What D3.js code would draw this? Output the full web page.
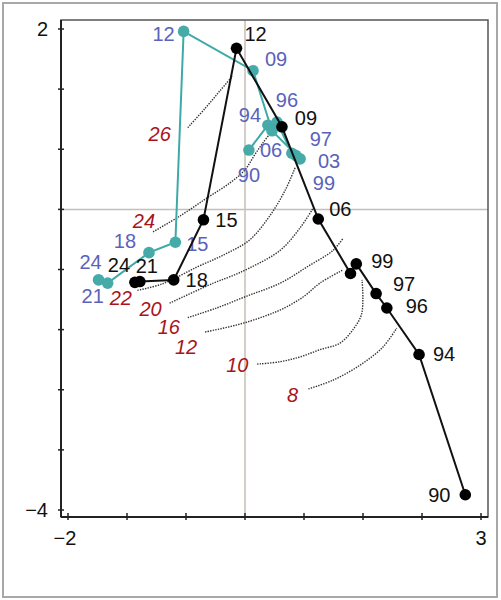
<!DOCTYPE html>
<html><head><meta charset="utf-8">
<script src="https://cdn.jsdelivr.net/npm/d3@7"></script>
<style>
html,body{margin:0;padding:0;background:#fff;}
svg{display:block;}
text{font-family:"Liberation Sans",Arial,Helvetica,sans-serif;}
</style></head>
<body>
<svg id="chart" width="501" height="600"></svg>
<script>
// ---------- data ----------
const blackLabels = ["90","94","96","97","99","","06","09","12","15","18","21","24"];
const blackX = [2.81, 2.25, 1.86, 1.73, 1.49, 1.42, 1.03, 0.59, 0.04, -0.36, -0.72, -1.13, -1.19];
const blackY = [-3.81, -2.06, -1.48, -1.30, -0.93, -1.05, -0.37, 0.78, 1.76, -0.38, -1.13, -1.15, -1.16];

const tealLabels = ["90","94","96","97","99","03","06","09","12","15","18","21","24"];
const tealX = [0.19, 0.42, 0.53, 0.71, 0.76, 0.81, 0.47, 0.24, -0.60, -0.70, -1.02, -1.52, -1.63];
const tealY = [0.49, 0.80, 0.84, 0.45, 0.42, 0.38, 0.73, 1.48, 1.97, -0.66, -0.79, -1.17, -1.13];

const contourLevels = ["26","24","22","20","16","12","10","8"];
const contourX = [
  [-0.55,-0.34,-0.16,-0.01],
  [-0.97,-0.64,-0.32,-0.04,0.14,0.26,0.36,0.45],
  [-1.16,-0.86,-0.44,-0.10,0.20,0.45,0.63,0.75],
  [-0.77,-0.24,-0.04,0.20,0.57,0.81,0.97],
  [-0.55,-0.20,0.17,0.57,0.89,1.21,1.33],
  [-0.34,0.05,0.36,0.60,0.85,1.05,1.32],
  [0.29,0.57,0.81,1.05,1.29,1.45,1.55,1.57,1.56],
  [0.91,1.21,1.54,1.81,1.98]
];
const contourY = [
  [0.77,1.01,1.23,1.41],
  [-0.53,-0.33,-0.11,0.08,0.24,0.43,0.58,0.70],
  [-1.26,-1.18,-0.97,-0.81,-0.63,-0.32,-0.01,0.27],
  [-1.42,-1.17,-1.09,-0.98,-0.76,-0.48,-0.23],
  [-1.60,-1.48,-1.33,-1.17,-0.97,-0.76,-0.61],
  [-1.78,-1.69,-1.59,-1.49,-1.34,-1.17,-1.01],
  [-2.18,-2.15,-2.09,-2.00,-1.92,-1.75,-1.57,-1.36,-1.13],
  [-2.49,-2.38,-2.19,-1.97,-1.73]
];
const contourLabelX = [-0.89,-1.08,-1.36,-1.00,-0.78,-0.57,0.05,0.72];
const contourLabelY = [0.69,-0.39,-1.36,-1.49,-1.72,-1.97,-2.19,-2.57];

const xTickLabels = ["\u22122","","","","","","","3"];
const yTickLabels = ["2","","","","","","","","\u22124"];

// ---------- layout (pixels) ----------
const blackOffsets = [[-26,0],[25,0],[30,-2],[28,-10],[26,-3],[0,0],[22,-10],[24,-9],[19,-14],[23,0],[23,0],[7,-16],[-16,-17]];
const tealOffsets = [[0,25],[-18,-10],[10,-22],[29,-14],[28,27],[29,2],[-1,19],[23,-12],[-20,3],[22,2],[-24,-12],[-15,13],[-8,-18]];

const svg = d3.select("#chart");
const x = d3.scaleLinear().domain([-2,3]).range([68,481]);
const y = d3.scaleLinear().domain([-4,2]).range([510,29]);
const xTicks = d3.range(8).map(i => -2 + i*5/7);
const yTicks = d3.range(9).map(i => 2 - i*0.75);
const fL = 61, fR = 488, fT = 20, fB = 517;
const FS = 20;

// outer border
svg.append("rect").attr("x",3).attr("y",3).attr("width",494).attr("height",594)
  .attr("fill","#fff").attr("stroke","#a8a8a8").attr("stroke-width",2);

// grid lines
svg.append("line").attr("x1",x(xTicks[3])).attr("x2",x(xTicks[3])).attr("y1",fT).attr("y2",fB)
  .attr("stroke","#c6beb7").attr("stroke-width",1.5);
svg.append("line").attr("x1",fL).attr("x2",fR).attr("y1",y(yTicks[3])).attr("y2",y(yTicks[3]))
  .attr("stroke","#c6beb7").attr("stroke-width",1.5);

// frame
svg.append("rect").attr("x",fL).attr("y",fT).attr("width",fR-fL).attr("height",fB-fT)
  .attr("fill","none").attr("stroke","#555").attr("stroke-width",1.5);
svg.append("line").attr("x1",fL).attr("x2",fL).attr("y1",fT).attr("y2",fB).attr("stroke","#222").attr("stroke-width",2);
svg.append("line").attr("x1",fL).attr("x2",fR).attr("y1",fB).attr("y2",fB).attr("stroke","#222").attr("stroke-width",2);

// ticks
svg.append("g").selectAll("line").data(yTicks).join("line")
  .attr("x1",fL-3).attr("x2",fL+3).attr("y1",d=>y(d)).attr("y2",d=>y(d))
  .attr("stroke","#222").attr("stroke-width",1.5);
svg.append("g").selectAll("line").data(xTicks).join("line")
  .attr("y1",fB-4).attr("y2",fB+3).attr("x1",d=>x(d)).attr("x2",d=>x(d))
  .attr("stroke","#222").attr("stroke-width",1.5);
svg.append("g").selectAll("text").data(yTicks).join("text")
  .attr("x",48).attr("y",d=>y(d)+7).attr("text-anchor","end")
  .attr("font-size",FS).attr("fill","#111").text((d,i)=>yTickLabels[i]);
svg.append("g").selectAll("text").data(xTicks).join("text")
  .attr("x",(d,i)=>x(d) - (i===0?3:0)).attr("y",545).attr("text-anchor","middle")
  .attr("font-size",FS).attr("fill","#111").text((d,i)=>xTickLabels[i]);

// contours
const cline = d3.line().x(d=>x(d[0])).y(d=>y(d[1])).curve(d3.curveCatmullRom);
contourLevels.forEach((lv,i)=>{
  const pts = contourX[i].map((v,j)=>[v,contourY[i][j]]);
  svg.append("path").attr("d",cline(pts)).attr("fill","none")
    .attr("stroke","#333").attr("stroke-width",1.4).attr("stroke-dasharray","1.4,1.2");
  svg.append("text").attr("x",x(contourLabelX[i])).attr("y",y(contourLabelY[i])+7)
    .attr("text-anchor","middle").attr("font-size",FS).attr("font-style","italic")
    .attr("fill","#a8141b").text(lv);
});

// series
const pline = d3.line().x(d=>x(d[0])).y(d=>y(d[1]));
function drawSeries(X, Y, labels, offsets, lineColor, dotColor, labelColor){
  const pts = X.map((v,i)=>[v,Y[i]]);
  svg.append("path").attr("d",pline(pts)).attr("fill","none")
    .attr("stroke",lineColor).attr("stroke-width",2);
  svg.append("g").selectAll("circle").data(pts).join("circle")
    .attr("cx",d=>x(d[0])).attr("cy",d=>y(d[1])).attr("r",5.8).attr("fill",dotColor);
  svg.append("g").selectAll("text").data(pts).join("text")
    .attr("x",(d,i)=>x(d[0])+offsets[i][0]).attr("y",(d,i)=>y(d[1])+offsets[i][1]+7)
    .attr("text-anchor","middle").attr("font-size",FS).attr("fill",labelColor)
    .text((d,i)=>labels[i]);
}
drawSeries(tealX, tealY, tealLabels, tealOffsets, "#3fa9a7", "#45aaa8", "#5a62bb");
drawSeries(blackX, blackY, blackLabels, blackOffsets, "#111", "#000", "#111");
</script>
</body></html>
